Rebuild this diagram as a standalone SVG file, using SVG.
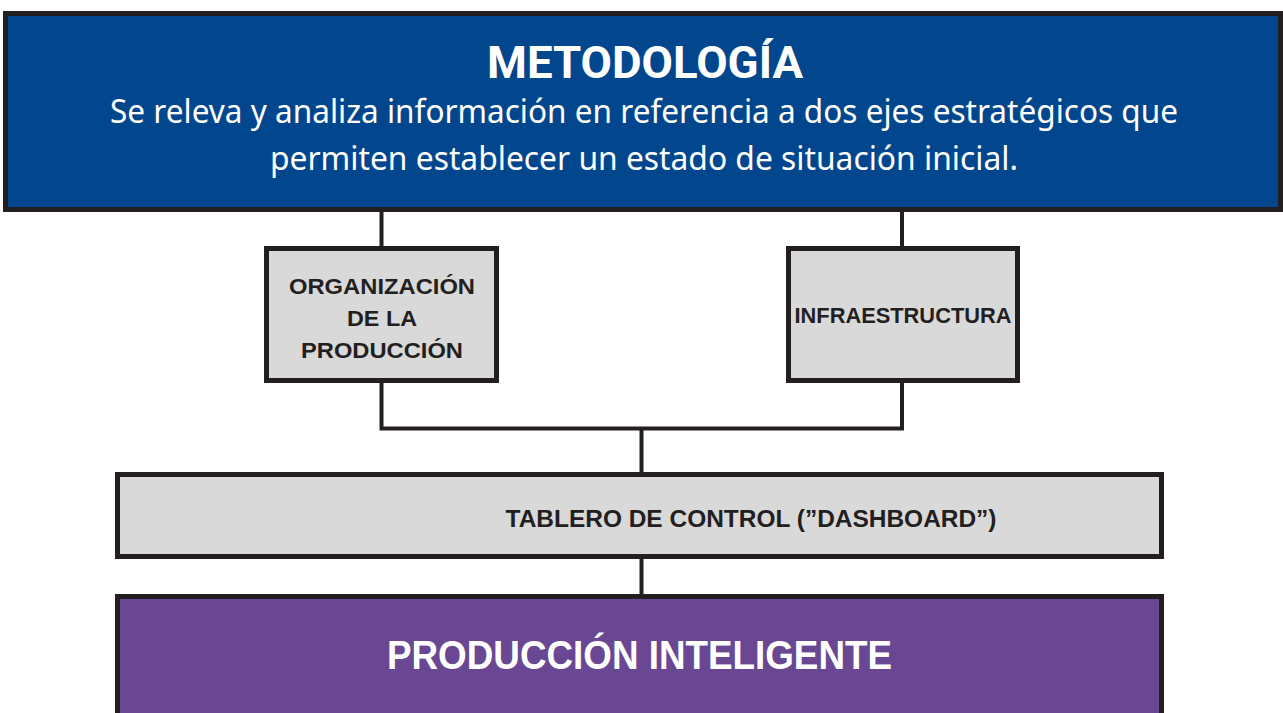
<svg xmlns="http://www.w3.org/2000/svg" width="1283" height="713" viewBox="0 0 1283 713">
<style>
.box{stroke:#231F20;stroke-width:5}
.grey{fill:#D9D9D9}
.lbl{font-family:"Liberation Sans",Arial,sans-serif;font-weight:bold;fill:#231F20;text-anchor:middle}
.conn{fill:none;stroke:#231F20;stroke-width:4;stroke-linejoin:miter}
</style>
<rect width="1283" height="713" fill="#FFFFFF"/>
<g id="connectors">
<path class="conn" d="M381.5 212 V247"/>
<path class="conn" d="M902 212 V247"/>
<path class="conn" d="M381.5 382 V428.5 H902 V382"/>
<path class="conn" d="M641.5 428.5 V473"/>
<path class="conn" d="M641.5 558 V595"/>
</g>
<g id="metodologia">
<rect class="box" x="5.5" y="13.5" width="1275" height="196" fill="#02478E"/>
<text x="645" y="78" font-family="Roboto,'Liberation Sans',sans-serif" font-weight="bold" font-size="45" fill="#FFFFFF" text-anchor="middle" textLength="316" lengthAdjust="spacingAndGlyphs">METODOLOGÍA</text>
<text x="644" y="123" font-family="'Noto Sans','Open Sans',sans-serif" font-size="32" fill="#FFFFFF" text-anchor="middle" textLength="1068" lengthAdjust="spacingAndGlyphs">Se releva y analiza información en referencia a dos ejes estratégicos que</text>
<text x="644" y="170" font-family="'Noto Sans','Open Sans',sans-serif" font-size="32" fill="#FFFFFF" text-anchor="middle" textLength="748" lengthAdjust="spacingAndGlyphs">permiten establecer un estado de situación inicial.</text>
</g>
<g id="organizacion">
<rect class="box grey" x="266.5" y="248.5" width="230" height="132"/>
<text class="lbl" x="382" y="294" font-size="22" textLength="186" lengthAdjust="spacingAndGlyphs">ORGANIZACIÓN</text>
<text class="lbl" x="382" y="326" font-size="22" textLength="70" lengthAdjust="spacingAndGlyphs">DE LA</text>
<text class="lbl" x="382" y="358" font-size="22" textLength="162" lengthAdjust="spacingAndGlyphs">PRODUCCIÓN</text>
</g>
<g id="infraestructura">
<rect class="box grey" x="788.5" y="248.5" width="229" height="132"/>
<text class="lbl" x="903" y="323" font-size="22" textLength="217" lengthAdjust="spacingAndGlyphs">INFRAESTRUCTURA</text>
</g>
<g id="tablero">
<rect class="box grey" x="117.5" y="474.5" width="1044" height="82"/>
<text class="lbl" x="751" y="527" font-size="23" textLength="491" lengthAdjust="spacingAndGlyphs">TABLERO DE CONTROL (”DASHBOARD”)</text>
</g>
<g id="produccion-inteligente">
<rect class="box" x="117.5" y="596.5" width="1044" height="200" fill="#6A4793"/>
<text x="639.5" y="669" font-family="'Liberation Sans',Arial,sans-serif" font-weight="bold" font-size="40" fill="#FFFFFF" text-anchor="middle" textLength="505" lengthAdjust="spacingAndGlyphs">PRODUCCIÓN INTELIGENTE</text>
</g>
</svg>
